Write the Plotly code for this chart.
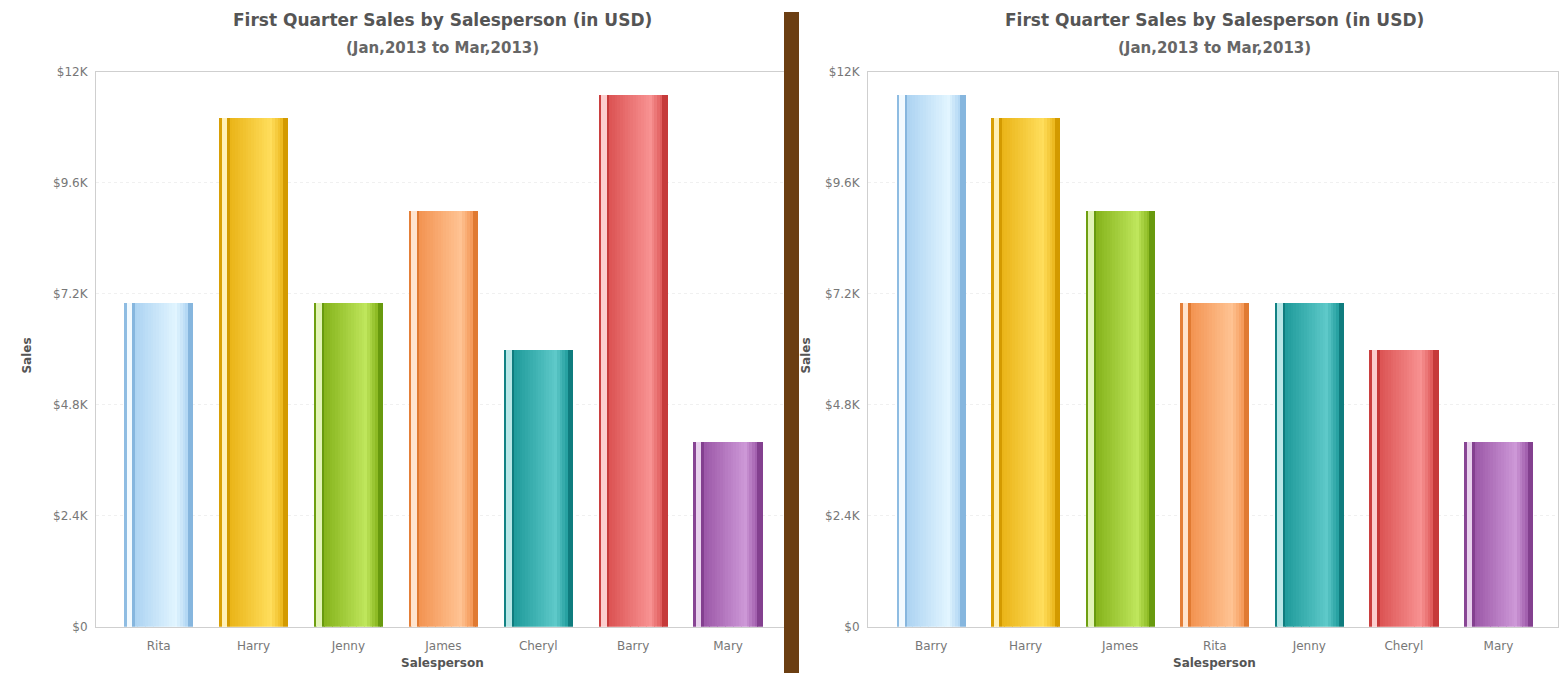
import plotly.graph_objects as go

# ---- data ----
left_people = ["Rita", "Harry", "Jenny", "James", "Cheryl", "Barry", "Mary"]
left_sales = [7000, 11000, 7000, 9000, 6000, 11500, 4000]
right_people = ["Barry", "Harry", "James", "Rita", "Jenny", "Cheryl", "Mary"]
right_sales = [11500, 11000, 9000, 7000, 7000, 6000, 4000]
ytick_vals = [0, 2400, 4800, 7200, 9600, 12000]
ytick_text = ["$0", "$2.4K", "$4.8K", "$7.2K", "$9.6K", "$12K"]
title_text = "First Quarter Sales by Salesperson (in USD)"
subtitle_text = "(Jan,2013 to Mar,2013)"
x_title = "Salesperson"
y_title = "Sales"

# ---- styling ----
palette = [  # (dark, mid, light) by bar position
    ("#86b6de", "#acd3f2", "#e2f5ff"),
    ("#d39a00", "#eab417", "#ffde5c"),
    ("#689a0e", "#86b41c", "#bfe65c"),
    ("#e07a32", "#f39452", "#ffc393"),
    ("#0f7c7e", "#1f9b9b", "#5ec9c9"),
    ("#c63a3a", "#dc5454", "#f89292"),
    ("#83408f", "#9c58a8", "#cd98d7"),
]


def hex2rgb(h):
    h = h.lstrip("#")
    return tuple(int(h[i:i + 2], 16) for i in (0, 2, 4))


def mix(c1, c2, a):
    r1, r2 = hex2rgb(c1), hex2rgb(c2)
    return "rgb(%d,%d,%d)" % tuple(round(r1[k] + (r2[k] - r1[k]) * a) for k in range(3))


def shade(pal, t):
    dark, mid, light = pal
    if t < 0.05:
        return mix(dark, mid, 0.2)
    if t < 0.11:
        return mix(light, "#ffffff", 0.55)
    if t < 0.16:
        return dark
    if t < 0.75:
        return mix(mid, light, (t - 0.16) / 0.59)
    if t < 0.93:
        return mix(light, mid, (t - 0.75) / 0.18)
    return dark


N = 26
BW = 0.73

fig = go.Figure()


def add_bars(people, sales, xa, ya):
    for i in range(N):
        t = (i + 0.5) / N
        fig.add_trace(go.Bar(
            x=people, y=sales, xaxis=xa, yaxis=ya,
            width=BW / N + 0.002, offset=-BW / 2 + i * BW / N,
            marker=dict(color=[shade(palette[k], t) for k in range(len(people))],
                        line=dict(width=0)),
            hoverinfo="skip", showlegend=False,
        ))


add_bars(left_people, left_sales, "x", "y")
add_bars(right_people, right_sales, "x2", "y2")

W, H = 1566, 673
ytop, ybot = 66, 633
L = (96, 785)
R = (868, 1558)
ydom = [(H - ybot) / H, (H - ytop) / H]

axis_font = dict(family="DejaVu Sans", size=12, color="#777777")
common_x = dict(showline=True, linecolor="#cfcfcf", mirror=True, ticks="",
                tickfont=axis_font, showgrid=False, fixedrange=True,
                ticklabelstandoff=8)
common_y = dict(showline=True, linecolor="#cfcfcf", mirror=True, ticks="",
                tickfont=axis_font, range=[0, 12000], tickvals=ytick_vals,
                ticktext=ytick_text, showgrid=True, gridcolor="#f0f0f0",
                griddash="dot", zeroline=False, ticklabelstandoff=5)

fig.update_layout(
    width=W, height=H, margin=dict(l=0, r=0, t=0, b=0),
    paper_bgcolor="white", plot_bgcolor="white", barmode="overlay", bargap=0,
    xaxis=dict(domain=[L[0] / W, L[1] / W], range=[-0.66, 6.6], anchor="y", **common_x),
    yaxis=dict(domain=ydom, anchor="x", **common_y),
    xaxis2=dict(domain=[R[0] / W, R[1] / W], range=[-0.667, 6.63], anchor="y2", **common_x),
    yaxis2=dict(domain=ydom, anchor="x2", **common_y),
)

title_font = dict(family="DejaVu Sans", size=17, color="#555555")
sub_font = dict(family="DejaVu Sans", size=15, color="#666666")
lab_font = dict(family="DejaVu Sans", size=12, color="#555555")


def ann(x, y, text, font, angle=0):
    fig.add_annotation(x=x / W, y=(H - y) / H, xref="paper", yref="paper",
                       xanchor="center", yanchor="middle", text=text,
                       showarrow=False, font=font, textangle=angle)


for cx, ylab_x in ((443, 27), (1214, 806)):
    ann(cx, 13, "<b>%s</b>" % title_text, title_font)
    ann(cx, 41.5, "<b>%s</b>" % subtitle_text, sub_font)
    ann(cx, 670, "<b>%s</b>" % x_title, lab_font)
    ann(ylab_x, 356, "<b>%s</b>" % y_title, lab_font, -90)

# brown divider between the two charts
fig.add_shape(type="rect", xref="paper", yref="paper",
              x0=784 / W, x1=799 / W, y0=-0.02, y1=(H - 5) / H,
              fillcolor="#6b3e12", line=dict(width=0), layer="above")

fig.write_html("out.html")
